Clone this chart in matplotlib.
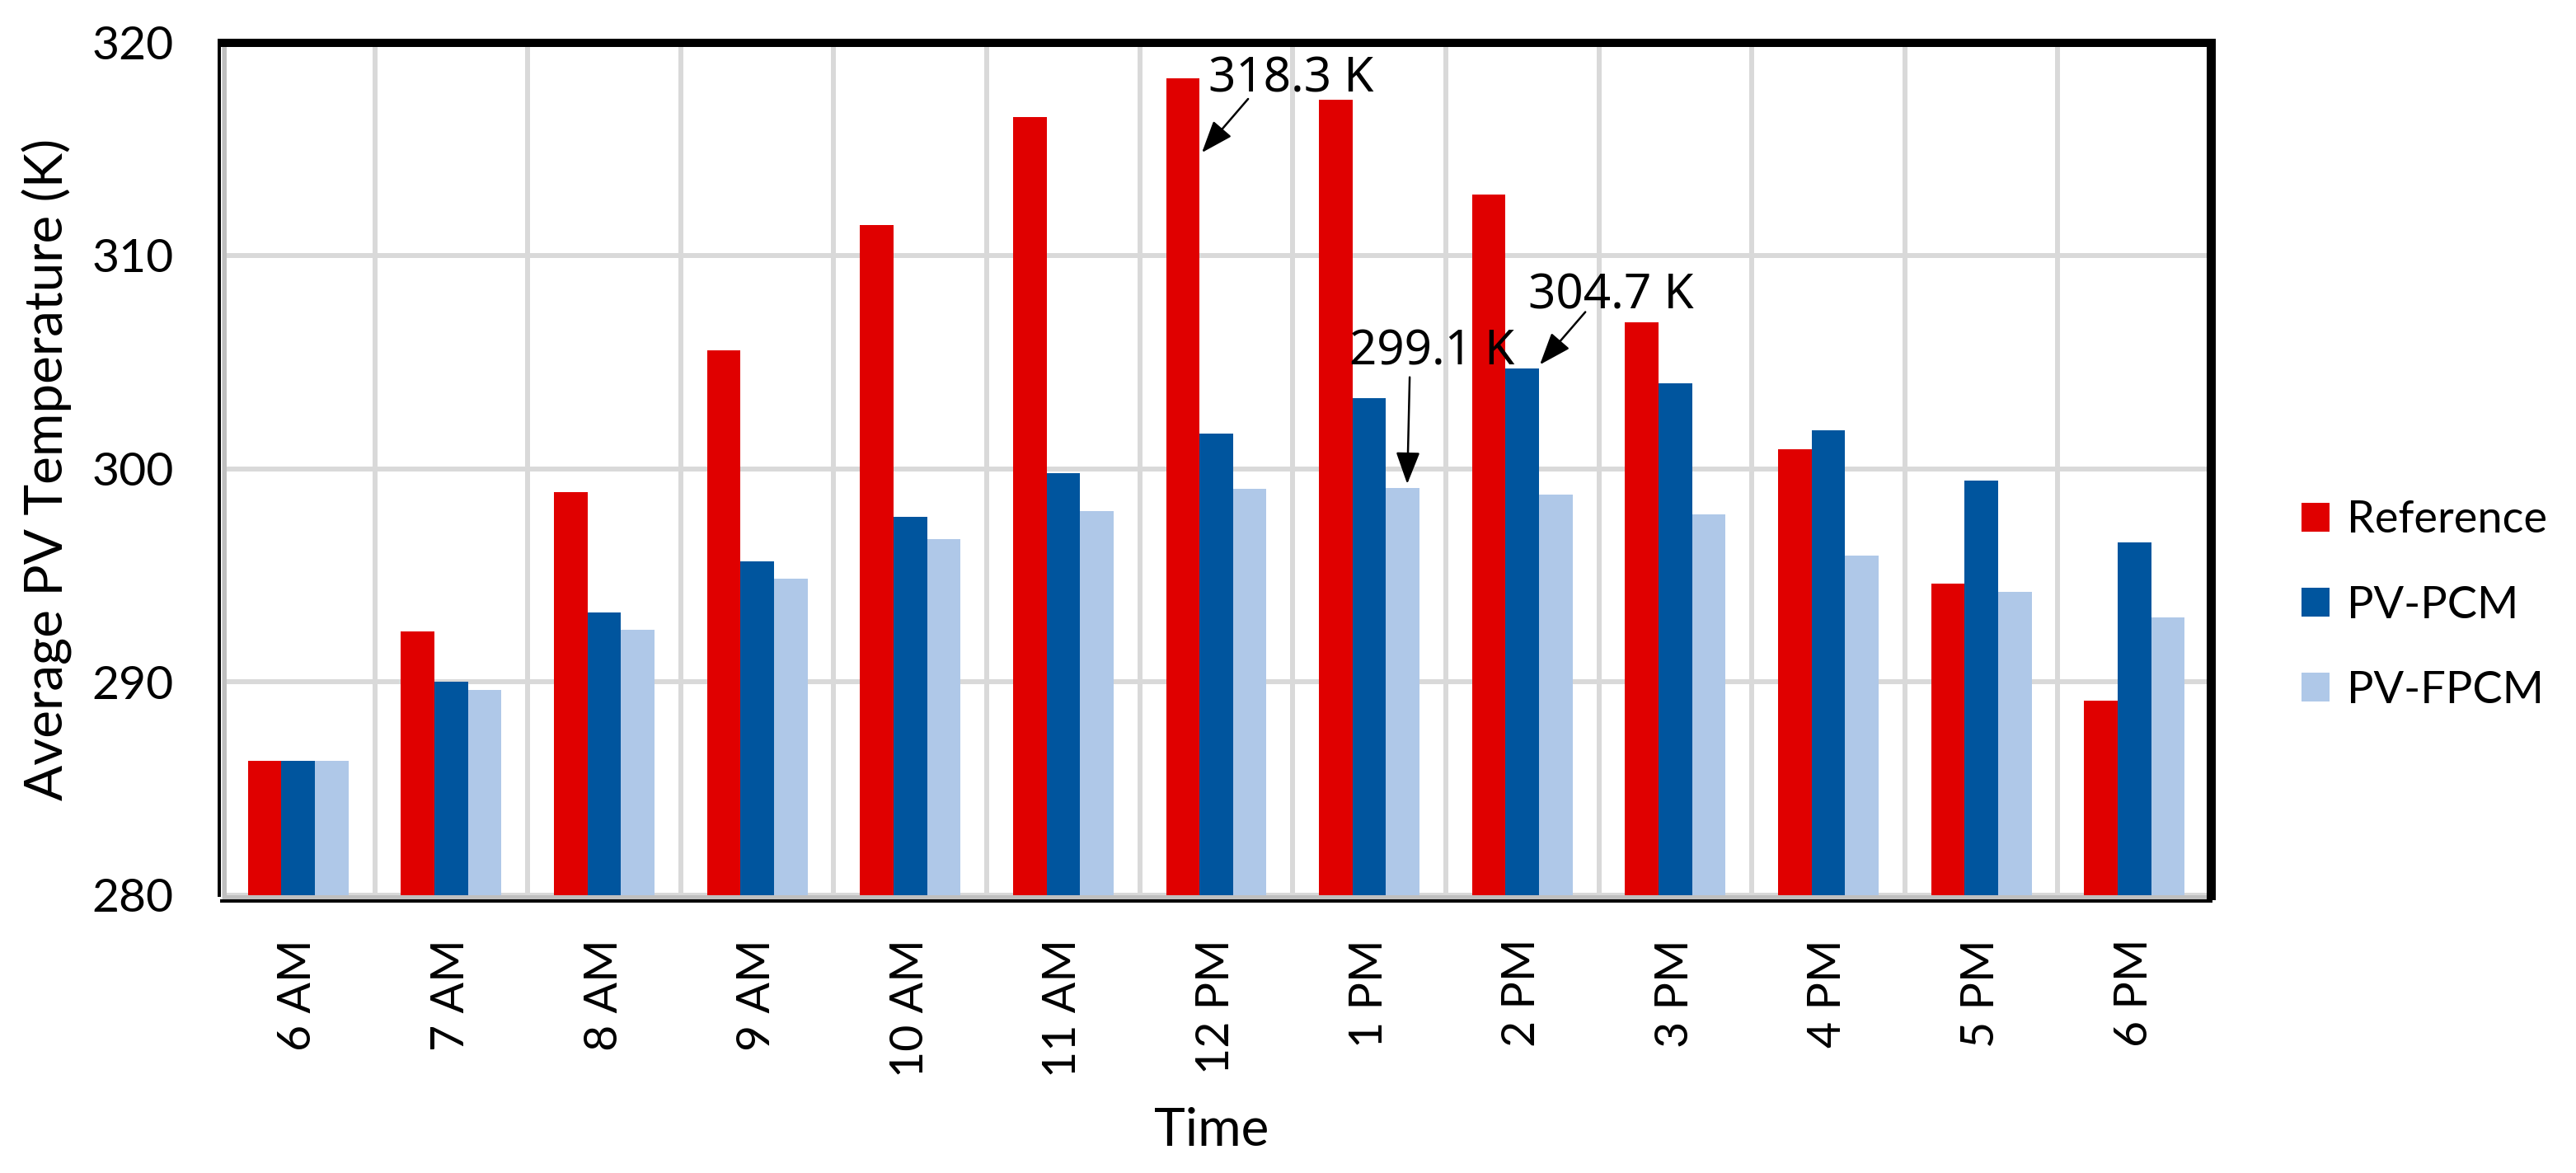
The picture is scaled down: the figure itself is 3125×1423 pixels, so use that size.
import matplotlib
matplotlib.use("Agg")
import matplotlib.pyplot as plt
import numpy as np

categories = ['6 AM', '7 AM', '8 AM', '9 AM', '10 AM', '11 AM', '12 PM',
              '1 PM', '2 PM', '3 PM', '4 PM', '5 PM', '6 PM']
reference = [286.3, 292.35, 298.9, 305.55, 311.45, 316.5, 318.3,
             317.3, 312.85, 306.85, 300.9, 294.6, 289.1]
pv_pcm = [286.3, 290.0, 293.25, 295.65, 297.75, 299.8, 301.65,
          303.3, 304.7, 304.0, 301.8, 299.45, 296.55]
pv_fpcm = [286.3, 289.6, 292.45, 294.85, 296.7, 298.0, 299.05,
           299.1, 298.8, 297.85, 295.9, 294.2, 293.0]
series_names = ['Reference', 'PV-PCM', 'PV-FPCM']
colors = ['#E00000', '#00559E', '#AFC8E8']

plt.rcParams['font.family'] = ['Lato', 'DejaVu Sans']

W, H = 3125, 1423
DPI = 100
PT = 72.0 / DPI  # px -> pt

fig = plt.figure(figsize=(W / DPI, H / DPI), dpi=DPI)
left, right, top, bottom = 269, 2682, 51.5, 1085.5
ax = fig.add_axes([left / W, 1 - bottom / H, (right - left) / W, (bottom - top) / H])

x = np.arange(len(categories))
bw = 0.219
for i, (vals, name, c) in enumerate(zip([reference, pv_pcm, pv_fpcm], series_names, colors)):
    ax.bar(x + (i - 1) * bw, np.array(vals) - 280, bottom=280, width=bw, color=c,
           label=name, zorder=3, linewidth=0)

ax.set_xlim(-0.5, len(categories) - 0.5)
ax.set_ylim(280, 320)
ax.set_yticks([280, 290, 300, 310, 320])
ax.set_xticks(x)
ax.set_xticklabels(categories)
ax.set_xticks(np.arange(-0.5, len(categories), 1.0), minor=True)
ax.tick_params(axis='both', which='both', length=0)
ax.tick_params(axis='y', which='major', pad=55 * PT, labelsize=41)
ax.tick_params(axis='x', which='major', pad=46 * PT, labelsize=40, labelrotation=90)
for lab in ax.get_xticklabels():
    lab.set_fontweight('semibold')

grid_col = '#d9d9d9'
ax.set_axisbelow(True)
ax.yaxis.grid(True, color=grid_col, lw=6 * PT, zorder=0)
ax.xaxis.grid(True, which='minor', color=grid_col, lw=6 * PT, zorder=0)
ax.xaxis.grid(False, which='major')

# frame
ax.spines['top'].set_linewidth(10 * PT)
ax.spines['right'].set_linewidth(11 * PT)
ax.spines['left'].set_linewidth(4 * PT)
ax.spines['left'].set_position(('outward', 3 * PT))
ax.spines['bottom'].set_linewidth(4 * PT)
ax.spines['bottom'].set_position(('outward', 7.5 * PT))
for s in ax.spines.values():
    s.set_color('black')
# grey axis lines inside frame
ax.plot([0, 1], [-3.5 / (bottom - top)] * 2, transform=ax.transAxes, clip_on=False,
        color='#bfbfbf', lw=7 * PT, solid_capstyle='butt', zorder=2)
ax.plot([2.5 / (right - left)] * 2, [0, 1], transform=ax.transAxes, clip_on=False,
        color='#bfbfbf', lw=5 * PT, solid_capstyle='butt', zorder=2)

# axis titles
fig.text(57 / W, 1 - 569 / H, 'Average PV Temperature (K)', rotation=90,
         ha='center', va='center', fontsize=46)
fig.text(1470 / W, 1 - 1390 / H, 'Time', ha='center', va='baseline', fontsize=46)

# legend
leg = fig.legend(loc='center left', bbox_to_anchor=(2792 / W, 1 - 734 / H),
                 frameon=False, prop={'size': 39},
                 handlelength=0.63, handleheight=0.63, handletextpad=0.39,
                 labelspacing=1.0, borderpad=0, borderaxespad=0)

# annotations
ann_labels = ['318.3 K', '299.1 K', '304.7 K']
ann_text_xy = [(5.949, 317.66), (6.871, 304.89), (8.040, 307.49)]
ann_tail = [(6.208, 317.35), (7.264, 304.29), (8.412, 307.35)]
ann_head = [(5.906, 314.83), (7.248, 299.28), (8.115, 304.88)]
for lab, txy, tail, head in zip(ann_labels, ann_text_xy, ann_tail, ann_head):
    ax.text(txy[0], txy[1], lab, ha='left', va='baseline', fontfamily='Noto Sans',
            fontsize=42, zorder=6)
    ax.annotate('', xy=head, xytext=tail,
                arrowprops=dict(arrowstyle='-|>,head_length=0.8,head_width=0.3',
                                mutation_scale=30, lw=2.5 * PT, color='black',
                                shrinkA=0, shrinkB=0), zorder=6)

fig.savefig('out.png', dpi=DPI)
